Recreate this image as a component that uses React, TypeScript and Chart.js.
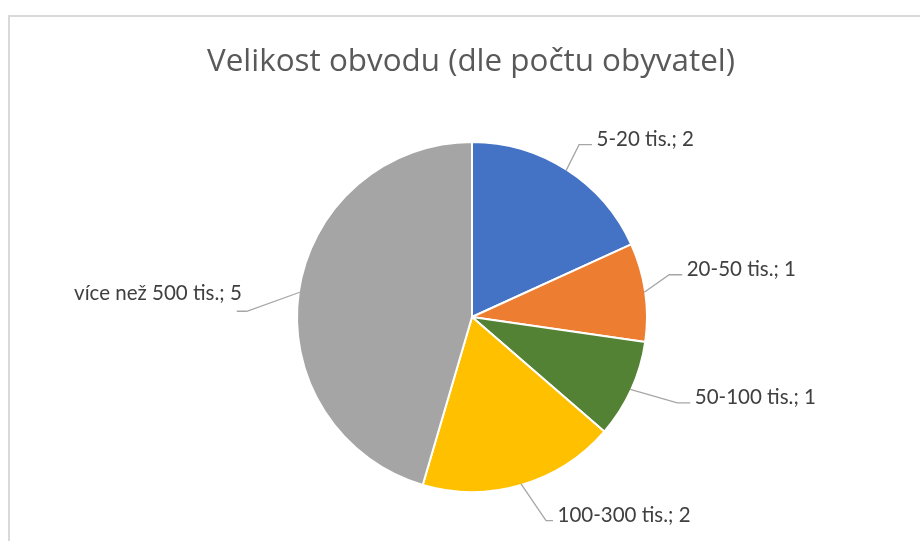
import React, { useEffect, useRef } from "react";
import { Chart, registerables } from "chart.js";

Chart.register(...registerables);

const titleText = "Velikost obvodu (dle počtu obyvatel)";
const categories = ["5-20 tis.", "20-50 tis.", "50-100 tis.", "100-300 tis.", "více než 500 tis."];
const values = [2, 1, 1, 2, 5];
const colors = ["#4472C4", "#ED7D31", "#548235", "#FFC000", "#A5A5A5"];

// leader line elbow offsets (from slice edge midpoint) and horizontal tail lengths
const leaderElbow: [number, number][] = [
  [13, -26],
  [25, -17.5],
  [47, 13.5],
  [25, 36.7],
  [-53, 19],
];
const leaderTail = [13, 13, 13, 7, -10];

const TITLE_FONT = "Open Sans";
const LABEL_FONT = "Lato";

const frameAndLabels = {
  id: "frameAndLabels",
  beforeDraw(chart: any) {
    const ctx = chart.ctx;
    ctx.save();
    ctx.fillStyle = "#FFFFFF";
    ctx.fillRect(0, 0, chart.width, chart.height);
    ctx.strokeStyle = "#D9D9D9";
    ctx.lineWidth = 2;
    ctx.beginPath();
    ctx.moveTo(9, chart.height + 5);
    ctx.lineTo(9, 16);
    ctx.lineTo(chart.width + 5, 16);
    ctx.stroke();
    // title
    const ca = chart.chartArea;
    ctx.fillStyle = "#595959";
    ctx.font = `31.4px "${TITLE_FONT}"`;
    ctx.textAlign = "center";
    ctx.textBaseline = "alphabetic";
    ctx.fillText(titleText, (ca.left + ca.right) / 2 - 1, ca.top - 70);
    ctx.restore();
  },
  afterDatasetsDraw(chart: any) {
    const ctx = chart.ctx;
    const meta = chart.getDatasetMeta(0);
    ctx.save();
    meta.data.forEach((arc: any, i: number) => {
      const p = arc.getProps(["x", "y", "startAngle", "endAngle", "outerRadius"], true);
      const mid = (p.startAngle + p.endAngle) / 2;
      const r = p.outerRadius - 1;
      const ax = p.x + Math.cos(mid) * r;
      const ay = p.y + Math.sin(mid) * r;
      const ex = ax + leaderElbow[i][0];
      const ey = ay + leaderElbow[i][1];
      const tx = ex + leaderTail[i];
      ctx.strokeStyle = "#A6A6A6";
      ctx.lineWidth = 1.3;
      ctx.beginPath();
      ctx.moveTo(ax, ay);
      ctx.lineTo(ex, ey);
      ctx.lineTo(tx, ey);
      ctx.stroke();
      ctx.fillStyle = "#404040";
      ctx.font = `20.5px "${LABEL_FONT}"`;
      ctx.textBaseline = "alphabetic";
      const text = `${categories[i]}; ${values[i]}`;
      if (leaderTail[i] > 0) {
        ctx.textAlign = "left";
        ctx.fillText(text, tx + 4.5, ey + 1.5);
      } else {
        ctx.textAlign = "right";
        ctx.fillText(text, tx + 5, ey - 11.7);
      }
    });
    ctx.restore();
  },
};

export default function App() {
  const ref = useRef<HTMLCanvasElement | null>(null);
  useEffect(() => {
    if (!ref.current) return;
    const chart = new Chart(ref.current, {
      type: "pie",
      data: {
        labels: categories,
        datasets: [
          {
            data: values,
            backgroundColor: colors,
            borderColor: "#FFFFFF",
            borderWidth: 2,
          },
        ],
      },
      options: {
        animation: false,
        responsive: true,
        maintainAspectRatio: false,
        layout: { padding: { left: 296, right: 272, top: 141, bottom: 48 } },
        plugins: {
          legend: { display: false },
          tooltip: { enabled: false },
          title: { display: false },
        },
      },
      plugins: [frameAndLabels],
    });
    return () => chart.destroy();
  }, []);
  return (
    <div style={{ position: "fixed", left: 0, top: 0, width: 920, height: 541, background: "#fff" }}>
      <canvas ref={ref} />
    </div>
  );
}
